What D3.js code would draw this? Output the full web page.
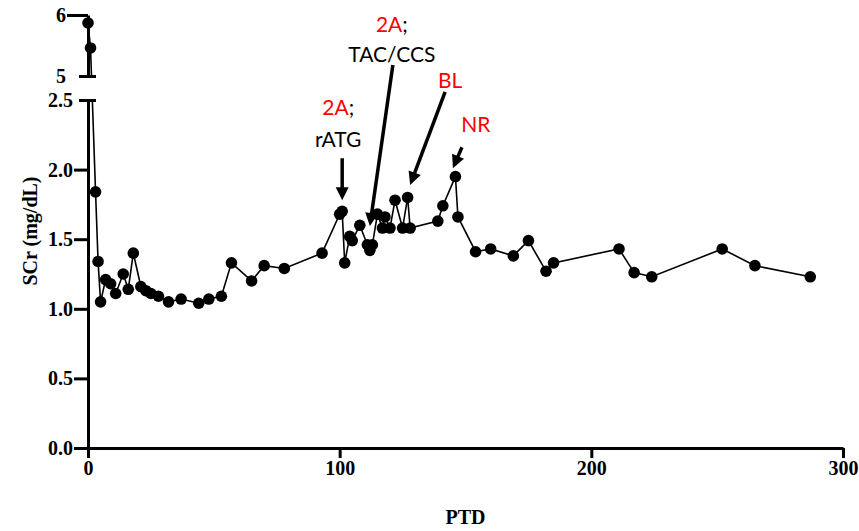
<!DOCTYPE html>
<html>
<head>
<meta charset="utf-8">
<script src="https://cdn.jsdelivr.net/npm/d3@7"></script>
<style>
  body { margin: 0; background: #fff; }
  .tick text { font-family: "Liberation Serif", "Times New Roman", serif; font-weight: bold; font-size: 20px; fill: #000; }
  .axis path, .axis line { stroke: #000; stroke-width: 3; }
  .note { font-family: Lato, "Open Sans", sans-serif; font-size: 21px; }
</style>
</head>
<body>
<div id="chart"></div>
<script>
// post-transplant day and serum creatinine
var ptd = [0, 1, 3, 4, 5, 7, 9, 11, 14, 16, 18, 21, 23, 25, 28, 32, 37, 44, 48, 53,
           57, 65, 70, 78, 93, 100, 101, 102, 104, 105, 108, 111, 112, 113, 115, 117,
           118, 120, 122, 125, 127, 128, 139, 141, 146, 147, 154, 160, 169, 175, 182,
           185, 211, 217, 224, 252, 265, 287];
var scr = [5.87, 5.46, 1.84, 1.34, 1.05, 1.21, 1.18, 1.11, 1.25, 1.14, 1.40, 1.16, 1.13,
           1.11, 1.09, 1.05, 1.07, 1.04, 1.07, 1.09, 1.33, 1.20, 1.31, 1.29, 1.40, 1.68,
           1.70, 1.33, 1.52, 1.49, 1.60, 1.46, 1.42, 1.46, 1.68, 1.58, 1.66, 1.58, 1.78,
           1.58, 1.80, 1.58, 1.63, 1.74, 1.95, 1.66, 1.41, 1.43, 1.38, 1.49, 1.27, 1.33,
           1.43, 1.26, 1.23, 1.43, 1.31, 1.23];

var xTicks = [0, 100, 200, 300];
var yTicksLow = [0, 0.5, 1.0, 1.5, 2.0, 2.5];
var yTicksHigh = [5, 6];

// arrows: tip at a data position, tail / text given as pixel offsets from tip
var notes = [
  { day: 101, val: 1.78, dx: 0,  dy: -42,  lx: -4, lines: [["2A", ";", -85], ["rATG", "", -53]] },
  { day: 112, val: 1.595, dx: 23, dy: -161, lx: 22, lines: [["2A", ";", -194], ["TAC/CCS", "", -164]] },
  { day: 128, val: 1.89, dx: 35, dy: -93,  lx: 40, lines: [["BL", "", -97]] },
  { day: 145, val: 2.01, dx: 9,  dy: -21,  lx: 23, lines: [["NR", "", -36]] }
];

var width = 859, height = 531;

var svg = d3.select("#chart").append("svg")
    .attr("width", width)
    .attr("height", height);

var x = d3.scaleLinear().domain([0, 300]).range([88, 843]);
var yLow = d3.scaleLinear().domain([0, 2.5]).range([448, 100]);
var yHigh = d3.scaleLinear().domain([5, 6]).range([76, 15]);
// broken axis: combined scale, the gap is clipped away
var y = d3.scaleLinear().domain([0, 2.5, 5, 6]).range([448, 100, 76, 15]);

var defs = svg.append("defs");
defs.append("clipPath").attr("id", "clipLow")
  .append("rect").attr("x", 0).attr("y", yLow(2.5)).attr("width", width).attr("height", height);
defs.append("clipPath").attr("id", "clipHigh")
  .append("rect").attr("x", 0).attr("y", 0).attr("width", width).attr("height", yHigh(5));

var data = ptd.map(function(d, i) { return { day: d, val: scr[i] }; });

var line = d3.line()
    .x(function(d) { return x(d.day); })
    .y(function(d) { return y(d.val); });

// x axis
var gx = svg.append("g")
    .attr("class", "axis")
    .attr("transform", "translate(0," + yLow(0) + ")")
    .call(d3.axisBottom(x).tickValues(xTicks).tickSize(10).tickSizeOuter(0).tickPadding(3));

// lower y axis
var gyl = svg.append("g")
    .attr("class", "axis")
    .attr("transform", "translate(" + x(0) + ",0)")
    .call(d3.axisLeft(yLow).tickValues(yTicksLow).tickFormat(d3.format(".1f"))
      .tickSize(14).tickSizeOuter(0).tickPadding(1));
gyl.selectAll(".tick").filter(function(d) { return d === 2.5; })
  .select("line").attr("x1", -9).attr("x2", 8);

// upper y axis
var gyh = svg.append("g")
    .attr("class", "axis")
    .attr("transform", "translate(" + x(0) + ",0)")
    .call(d3.axisLeft(yHigh).tickValues(yTicksHigh).tickFormat(d3.format("d"))
      .tickSize(21).tickSizeOuter(0).tickPadding(1));
gyh.selectAll(".tick").filter(function(d) { return d === 5; })
  .select("line").attr("x1", -9).attr("x2", 8);

// data line, drawn once per panel
["clipLow", "clipHigh"].forEach(function(id) {
  svg.append("path")
      .datum(data)
      .attr("clip-path", "url(#" + id + ")")
      .attr("fill", "none")
      .attr("stroke", "#000")
      .attr("stroke-width", 1.6)
      .attr("d", line);
});

svg.append("g").selectAll("circle")
    .data(data)
  .enter().append("circle")
    .attr("cx", function(d) { return x(d.day); })
    .attr("cy", function(d) { return y(d.val); })
    .attr("r", 5.8)
    .attr("fill", "#000");

// axis titles
svg.append("text")
    .attr("x", (x(0) + x(300)) / 2)
    .attr("y", 524)
    .attr("text-anchor", "middle")
    .style("font-family", "'Liberation Serif', 'Times New Roman', serif")
    .style("font-weight", "bold")
    .style("font-size", "20px")
    .text("PTD");

svg.append("text")
    .attr("transform", "translate(37,231) rotate(-90)")
    .attr("text-anchor", "middle")
    .style("font-family", "'Liberation Serif', 'Times New Roman', serif")
    .style("font-weight", "bold")
    .style("font-size", "20px")
    .text("SCr (mg/dL)");

// annotations
var ng = svg.append("g");
notes.forEach(function(n) {
  var tx = x(n.day), ty = y(n.val);
  var sx = tx + n.dx, sy = ty + n.dy;
  var len = Math.sqrt(n.dx * n.dx + n.dy * n.dy);
  var ux = -n.dx / len, uy = -n.dy / len;   // unit vector tail -> tip
  var head = 13, half = 6.5;
  var bx = tx - ux * head, by = ty - uy * head;

  ng.append("line")
      .attr("x1", sx).attr("y1", sy)
      .attr("x2", bx + ux * 2).attr("y2", by + uy * 2)
      .attr("stroke", "#000")
      .attr("stroke-width", 3.5);

  ng.append("path")
      .attr("d", "M" + tx + "," + ty +
                 "L" + (bx - uy * half) + "," + (by + ux * half) +
                 "L" + (bx + uy * half) + "," + (by - ux * half) + "Z")
      .attr("fill", "#000");

  n.lines.forEach(function(l) {
    var t = ng.append("text")
        .attr("class", "note")
        .attr("x", tx + n.lx)
        .attr("y", ty + l[2])
        .attr("text-anchor", "middle");
    var red = l[0] === "2A" || l[0] === "BL" || l[0] === "NR";
    t.append("tspan").attr("fill", red ? "#ff0000" : "#000").text(l[0]);
    if (l[1]) t.append("tspan").attr("fill", "#000").text(l[1]);
  });
});
</script>
</body>
</html>
